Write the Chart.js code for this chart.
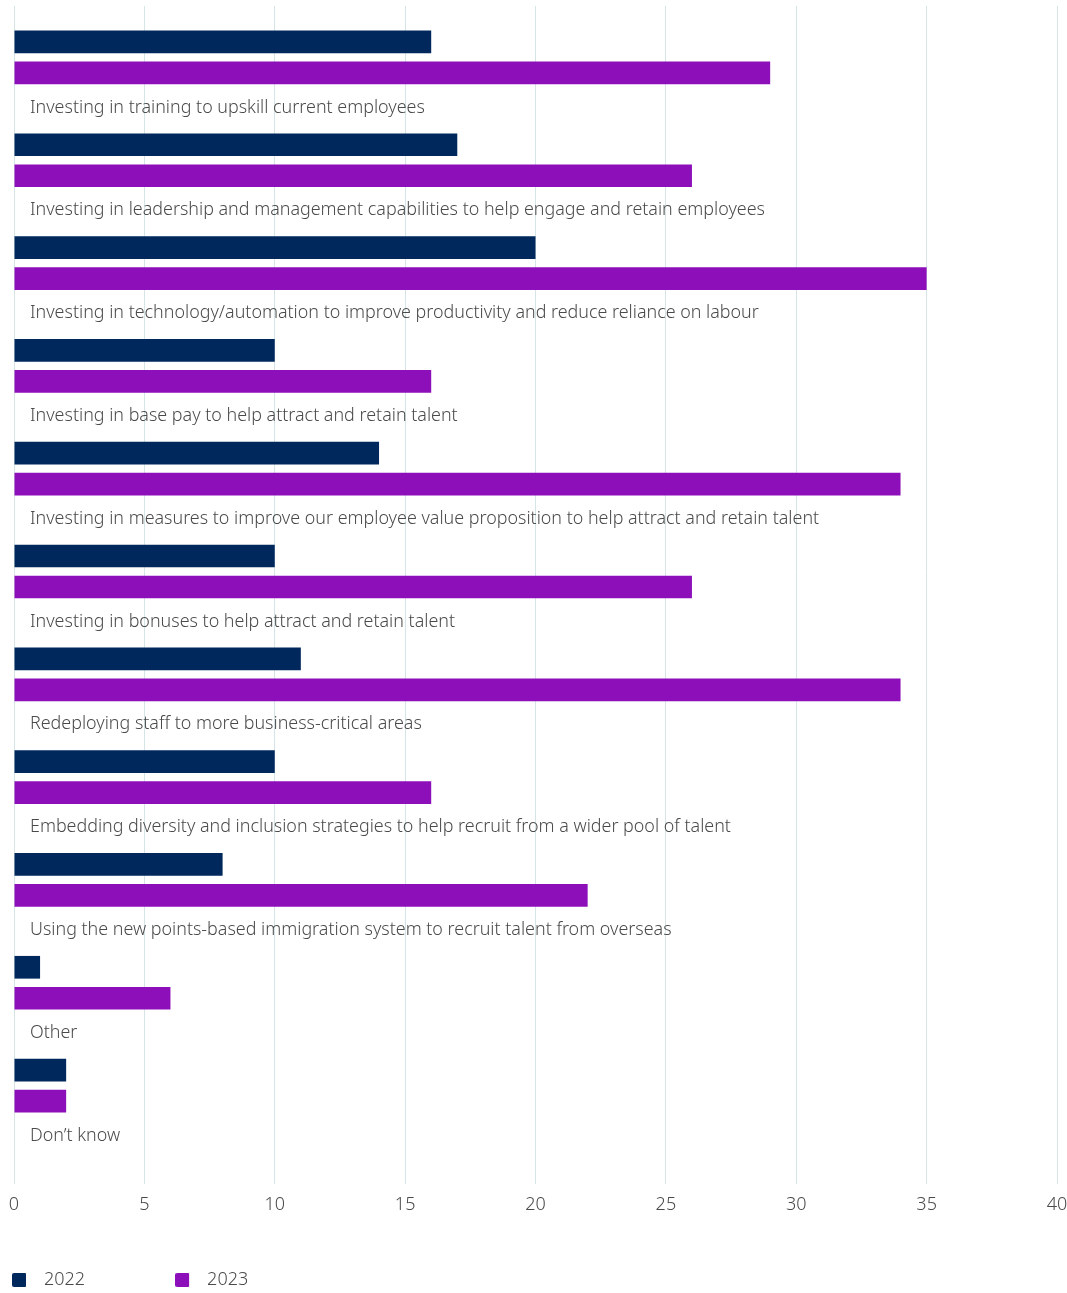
<!DOCTYPE html>
<html>
<head>
<meta charset="utf-8">
<script src="https://cdn.jsdelivr.net/npm/chart.js@4/dist/chart.umd.min.js"></script>
<style>
html,body{margin:0;padding:0;background:#fff}
#wrap{position:relative;width:1067px;height:1293px}
</style>
</head>
<body>
<div id="wrap"><canvas id="c"></canvas></div>
<script>
const categories = [
  "Investing in training to upskill current employees",
  "Investing in leadership and management capabilities to help engage and retain employees",
  "Investing in technology/automation to improve productivity and reduce reliance on labour",
  "Investing in base pay to help attract and retain talent",
  "Investing in measures to improve our employee value proposition to help attract and retain talent",
  "Investing in bonuses to help attract and retain talent",
  "Redeploying staff to more business-critical areas",
  "Embedding diversity and inclusion strategies to help recruit from a wider pool of talent",
  "Using the new points-based immigration system to recruit talent from overseas",
  "Other",
  "Don\u2019t know"
];
const seriesNames = ["2022", "2023"];
const values2022 = [16, 17, 20, 10, 14, 10, 11, 10, 8, 1, 2];
const values2023 = [29, 26, 35, 16, 34, 26, 34, 16, 22, 6, 2];
const xMin = 0, xMax = 40, xStep = 5;

const colors = ["#00285c", "#8c0fba"];
const gridColor = "#d5e4e6";
const textColor = "#4a4a4a";
const FONT = "'Noto Sans', 'Open Sans', 'DejaVu Sans', sans-serif";

function swatch(color) {
  const c = document.createElement("canvas");
  c.width = 23; c.height = 14;
  const g = c.getContext("2d");
  g.fillStyle = color;
  g.beginPath();
  if (g.roundRect) g.roundRect(0, 0, 14, 14, [2, 1, 1, 2]); else g.rect(0, 0, 14, 14);
  g.fill();
  return c;
}
const swatches = colors.map(swatch);

new Chart(document.getElementById("c"), {
  type: "bar",
  data: {
    labels: categories,
    datasets: [
      { label: seriesNames[0], data: values2022, backgroundColor: colors[0] },
      { label: seriesNames[1], data: values2023, backgroundColor: colors[1] }
    ]
  },
  options: {
    indexAxis: "y",
    responsive: true,
    maintainAspectRatio: false,
    animation: false,
    datasets: { bar: { barPercentage: 0.732, categoryPercentage: 0.603 } },
    layout: { padding: { left: -78, right: 10, top: 6, bottom: -6 } },
    plugins: {
      tooltip: { enabled: false },
      legend: {
        position: "bottom",
        align: "start",
        labels: {
          usePointStyle: true,
          pointStyleWidth: 23,
          padding: 90,
          color: textColor,
          font: { family: FONT, size: 18, weight: 300 },
          generateLabels(chart) {
            const items = Chart.defaults.plugins.legend.labels.generateLabels(chart);
            items.forEach((it, i) => { it.pointStyle = swatches[i]; });
            return items;
          }
        }
      }
    },
    scales: {
      x: {
        min: xMin, max: xMax,
        ticks: { stepSize: xStep, mirror: true, padding: -79, color: textColor, font: { family: FONT, size: 18, weight: 300 } },
        grid: { color: gridColor, tickColor: gridColor, tickLength: 47, drawTicks: true, lineWidth: 1 },
        border: { display: false },
        afterFit(s) { s.height = 44; s.paddingLeft = 0; s.paddingRight = 0; }
      },
      y: {
        grid: { display: false, drawTicks: false },
        border: { display: false },
        ticks: {
          mirror: true, padding: 16, labelOffset: 50, autoSkip: false,
          color: textColor, font: { family: FONT, size: 17.9, weight: 300 }
        },
        afterFit(s) { s.width = 92; s.paddingTop = 0; s.paddingBottom = 0; }
      }
    }
  }
});
</script>
</body>
</html>
